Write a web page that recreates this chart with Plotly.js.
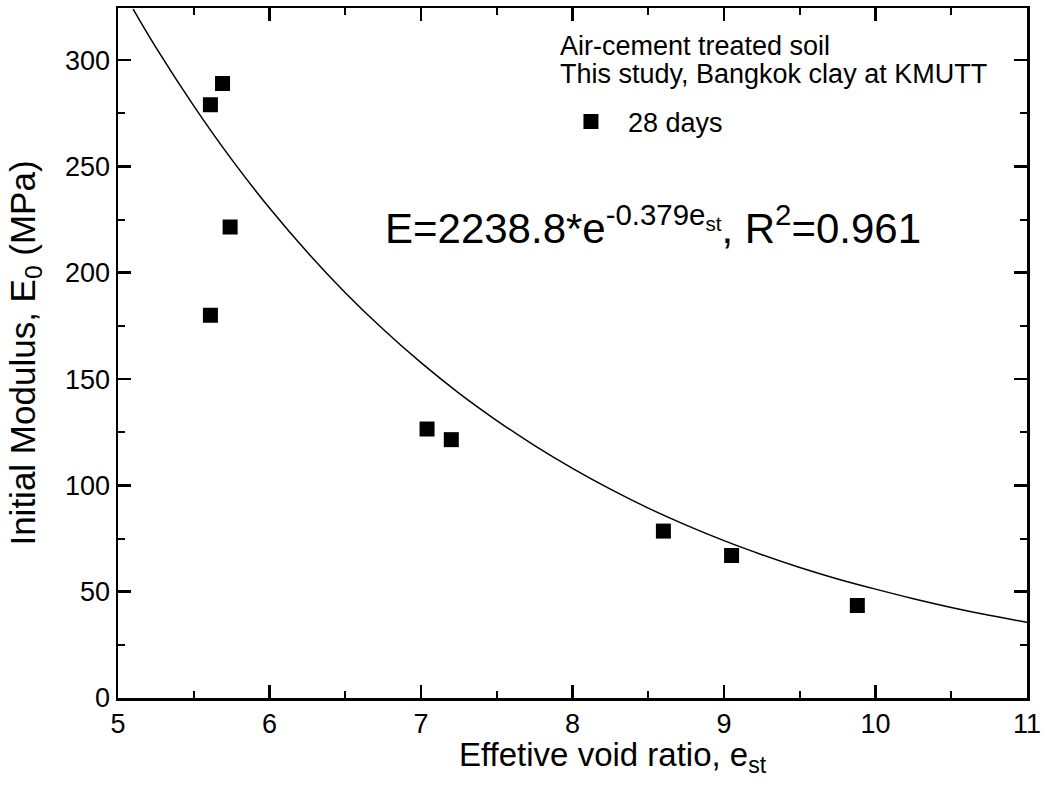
<!DOCTYPE html>
<html>
<head>
<meta charset="utf-8">
<script src="https://cdn.plot.ly/plotly-3.0.1.min.js"></script>
<style>html,body{margin:0;padding:0;background:#fff;}#chart{width:1048px;height:786px;}</style>
</head>
<body>
<div id="chart"></div>
<script>
// Measured data (28 days)
const voidRatio = [5.61, 5.69, 5.74, 5.61, 7.04, 7.20, 8.60, 9.05, 9.88];
const modulus   = [279, 289, 221.5, 180, 126.5, 121.5, 78.5, 67, 43.5];

// Fitted curve
const fitX = [5.1, 5.25, 5.5, 5.75, 6, 6.25, 6.5, 6.75, 7, 7.25, 7.5, 7.75, 8, 8.25, 8.5, 8.75, 9, 9.25, 9.5, 9.75, 10, 10.25, 10.5, 10.75, 11];
const fitY = [324, 306, 278.5, 253.3, 230.4, 209.6, 190.6, 173.4, 157.7, 143.4, 130.5, 118.7, 108.0, 98.2, 89.3, 81.3, 74.0, 67.4, 61.4, 56.0, 51.2, 46.7, 42.6, 38.9, 35.6];

const seriesName = "28 days";
const headerLines = ["Air-cement treated soil", "This study, Bangkok clay at KMUTT"];
const equation = "E=2238.8*e<sup>-0.379e<sub>st</sub></sup>, R<sup>2</sup>=0.961";
const xTitle = "Effetive void ratio, e<sub>st</sub>";
const yTitle = "Initial Modulus, E<sub>0</sub> (MPa)";

const font = "Liberation Sans, Arial, sans-serif";

const traces = [
  {x: fitX, y: fitY, mode: "lines", line: {color: "#000", width: 1.5, shape: "spline"}, showlegend: false, hoverinfo: "skip"},
  {x: voidRatio, y: modulus, mode: "markers", name: seriesName,
   marker: {symbol: "square", size: 15, color: "#000"}}
];

const axisCommon = {
  showline: true, linecolor: "#000", linewidth: 2.5, mirror: "ticks",
  ticks: "inside", ticklen: 13, tickwidth: 2.5, tickcolor: "#000",
  showgrid: false, zeroline: false,
  tickfont: {family: font, size: 27, color: "#000"},
  minor: {ticks: "inside", ticklen: 7, tickwidth: 2, tickcolor: "#000", showgrid: false}
};

const layout = {
  width: 1048, height: 786,
  margin: {l: 118, r: 21, t: 8, b: 88},
  paper_bgcolor: "#fff", plot_bgcolor: "#fff",
  font: {family: font, color: "#000"},
  xaxis: Object.assign({}, axisCommon, {
    range: [5, 11], tick0: 5, dtick: 1, minor: Object.assign({}, axisCommon.minor, {dtick: 0.5})
  }),
  yaxis: Object.assign({}, axisCommon, {
    range: [0, 324.5], tick0: 0, dtick: 50, minor: Object.assign({}, axisCommon.minor, {dtick: 25}),
    title: {text: yTitle, font: {family: font, size: 35}, standoff: 19}
  }),
  showlegend: true,
  legend: {
    x: 0.4796, y: 0.835, xanchor: "left", yanchor: "middle",
    bgcolor: "rgba(0,0,0,0)", borderwidth: 0,
    font: {family: font, size: 27, color: "#000"},
    itemsizing: "trace", itemwidth: 64
  },
  annotations: [
    {xref: "paper", yref: "paper", x: 0.545, y: -0.0855, xanchor: "center", yanchor: "middle",
     text: xTitle, showarrow: false, font: {family: font, size: 33, color: "#000"}},
    {xref: "paper", yref: "paper", x: 0.484, y: 0.945, xanchor: "left", yanchor: "middle",
     text: headerLines[0], showarrow: false, font: {family: font, size: 27, color: "#000"}},
    {xref: "paper", yref: "paper", x: 0.484, y: 0.904, xanchor: "left", yanchor: "middle",
     text: headerLines[1], showarrow: false, font: {family: font, size: 27, color: "#000"}},
    {xref: "paper", yref: "paper", x: 0.2915, y: 0.685, xanchor: "left", yanchor: "middle",
     text: equation, showarrow: false, font: {family: font, size: 42, color: "#000"}}
  ]
};

Plotly.newPlot("chart", traces, layout, {displayModeBar: false, staticPlot: true});
</script>
</body>
</html>
